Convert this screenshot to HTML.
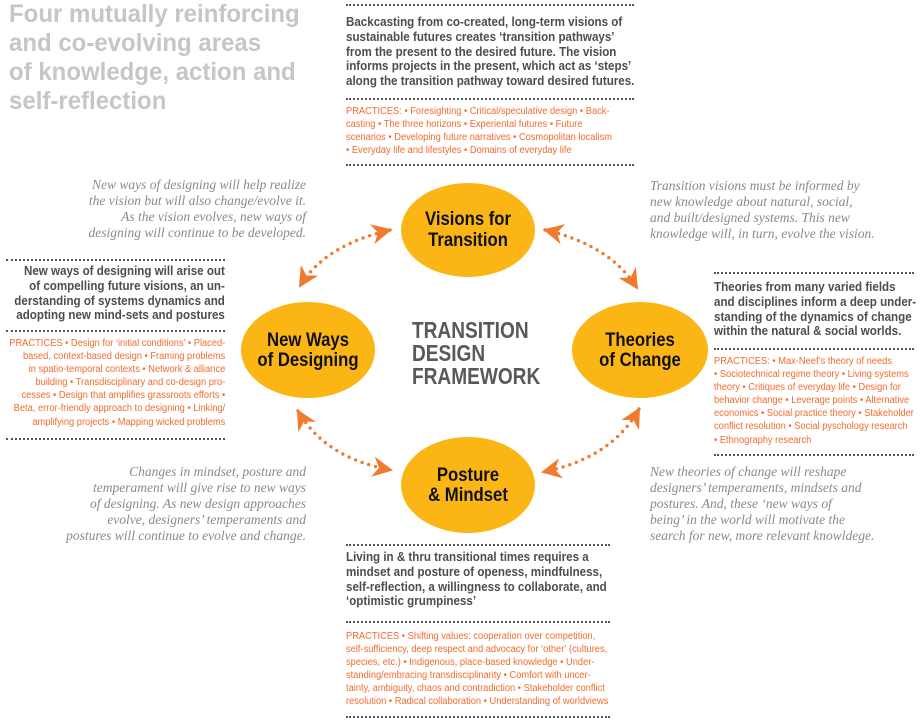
<!DOCTYPE html>
<html><head><meta charset="utf-8"><style>
body{margin:0;width:922px;height:725px;background:#fff;position:relative;overflow:hidden;font-family:"Liberation Sans",sans-serif}
div.t{position:absolute;white-space:nowrap;transform-origin:left top}
div.t.r{transform-origin:right top}
.title{left:9px;top:0px;font-size:25px;line-height:29px;font-weight:bold;color:#c5c6c8;transform:scaleX(.96)}
.b{font-weight:bold;color:#4d4d4f;font-size:12.6px;line-height:14.8px;transform:scaleX(.92)}
.p{color:#f26c2e;font-size:10px;line-height:13.1px;transform:scaleX(.93)}
.i{font-family:"Liberation Serif",serif;font-style:italic;color:#8a8a8a;font-size:13.5px;line-height:16px}
.dot{position:absolute;height:0;border-top:2px dotted #555}
.r{text-align:right}
</style></head><body>
<svg width="922" height="725" style="position:absolute;left:0;top:0">
<defs><marker id="ah" viewBox="0 0 10 10" refX="9" refY="5" markerWidth="6" markerHeight="6" orient="auto-start-reverse" markerUnits="strokeWidth"><path d="M0,0 L10,5 L0,10 L3,5 z" fill="#f07a2e"/></marker></defs>
<g fill="#fbb616">
<ellipse cx="468" cy="230" rx="67" ry="47"/>
<ellipse cx="308" cy="350" rx="67" ry="48"/>
<ellipse cx="640" cy="350" rx="68" ry="48"/>
<ellipse cx="468" cy="485" rx="67" ry="48"/>
</g>
<g fill="none" stroke="#f07a2e" stroke-width="3.4" stroke-linecap="round" stroke-dasharray="0 7" marker-start="url(#ah)" marker-end="url(#ah)">
<path d="M390,230 Q325,245 300,286"/>
<path d="M545,230 Q610,245 637,288"/>
<path d="M298,411 Q325,458 391,470"/>
<path d="M639,409 Q612,458 543,472"/>
</g>
<g font-family="Liberation Sans,sans-serif" font-weight="bold" font-size="19" fill="#111" text-anchor="middle">
<g transform="translate(468,0) scale(.88,1)"><text x="0" y="225">Visions  for</text><text x="0" y="246">Transition</text></g>
<g transform="translate(308,0) scale(.88,1)"><text x="0" y="346">New Ways</text><text x="0" y="366">of Designing</text></g>
<g transform="translate(640,0) scale(.88,1)"><text x="0" y="346">Theories</text><text x="0" y="366">of Change</text></g>
<g transform="translate(468,0) scale(.88,1)"><text x="0" y="481">Posture</text><text x="0" y="501">&amp; Mindset</text></g>
</g>
<g font-family="Liberation Sans,sans-serif" font-weight="bold" font-size="23" fill="#58595b" transform="translate(412,0) scale(.83,1)">
<text x="0" y="338">TRANSITION</text><text x="0" y="361">DESIGN</text><text x="0" y="384">FRAMEWORK</text>
</g>
</svg>
<div class="t title">Four mutually reinforcing<br>and co-evolving areas<br>of knowledge, action and<br>self-reflection</div>

<div class="dot" style="left:346px;top:4px;width:288px"></div>
<div class="t b" style="left:346px;top:15px">Backcasting from co-created, long-term visions of<br>sustainable futures creates ‘transition pathways’<br>from the present to the desired future. The vision<br>informs projects in the present, which act as ‘steps’<br>along the transition pathway toward desired futures.</div>
<div class="dot" style="left:346px;top:98px;width:288px"></div>
<div class="t p" style="left:346px;top:105px">PRACTICES: • Foresighting • Critical/speculative design • Back-<br>casting • The three horizons • Experiental futures • Future<br>scenarios • Developing future narratives • Cosmopolitan localism<br>• Everyday life and lifestyles • Domains of everyday life</div>
<div class="dot" style="left:346px;top:164px;width:288px"></div>

<div class="t i r" style="right:616px;top:177px">New ways of designing will help realize<br>the vision but will also change/evolve it.<br>As the vision evolves, new ways of<br>designing will continue to be developed.</div>
<div class="t i" style="left:650px;top:178px">Transition visions must be informed by<br>new knowledge about natural, social,<br>and built/designed systems. This new<br>knowledge will, in turn, evolve the vision.</div>

<div class="dot" style="left:6px;top:259px;width:219px"></div>
<div class="t b r" style="right:697px;top:264px">New ways of designing will arise out<br>of compelling future visions, an un-<br>derstanding of systems dynamics and<br>adopting new mind-sets and postures</div>
<div class="dot" style="left:6px;top:330px;width:219px"></div>
<div class="t p r" style="right:697px;top:337px">PRACTICES • Design for ‘initial conditions’ • Placed-<br>based, context-based design • Framing problems<br>in spatio-temporal contexts • Network &amp; alliance<br>building • Transdisciplinary and co-design pro-<br>cesses • Design that amplifies grassroots efforts •<br>Beta, error-friendly approach to designing • Linking/<br>amplifying projects • Mapping wicked problems</div>
<div class="dot" style="left:6px;top:438px;width:219px"></div>

<div class="dot" style="left:714px;top:272px;width:200px"></div>
<div class="t b" style="left:714px;top:280px">Theories from many varied fields<br>and disciplines inform a deep under-<br>standing of the dynamics of change<br>within the natural &amp; social worlds.</div>
<div class="dot" style="left:714px;top:348px;width:200px"></div>
<div class="t p" style="left:714px;top:355px">PRACTICES: • Max-Neef’s theory of needs<br>• Sociotechnical regime theory • Living systems<br>theory • Critiques of everyday life • Design for<br>behavior change • Leverage points  • Alternative<br>economics • Social practice theory • Stakeholder<br>conflict resolution  • Social pyschology research<br>• Ethnography research</div>
<div class="dot" style="left:714px;top:454px;width:200px"></div>

<div class="t i r" style="right:616px;top:464px">Changes in mindset, posture and<br>temperament will give rise to new ways<br>of designing. As new design approaches<br>evolve, designers’ temperaments and<br>postures will continue to evolve and change.</div>
<div class="t i" style="left:650px;top:464px">New theories of change will reshape<br>designers’ temperaments, mindsets and<br>postures. And, these ‘new ways of<br>being’ in the world will motivate the<br>search for new, more relevant knowldege.</div>

<div class="dot" style="left:346px;top:544px;width:264px"></div>
<div class="t b" style="left:346px;top:550px">Living in &amp; thru transitional times requires a<br>mindset and posture of openess, mindfulness,<br>self-reflection, a willingness to collaborate, and<br>‘optimistic grumpiness’</div>
<div class="dot" style="left:346px;top:621px;width:264px"></div>
<div class="t p" style="left:346px;top:630px">PRACTICES • Shifting values: cooperation over competition,<br>self-sufficiency, deep respect and advocacy for ‘other’ (cultures,<br>species, etc.) • Indigenous, place-based knowledge  • Under-<br>standing/embracing transdisciplinarity • Comfort with uncer-<br>tainty, ambiguity, chaos and contradiction • Stakeholder conflict<br>resolution • Radical collaboration • Understanding of worldviews</div>
<div class="dot" style="left:346px;top:716px;width:264px"></div>
</body></html>
